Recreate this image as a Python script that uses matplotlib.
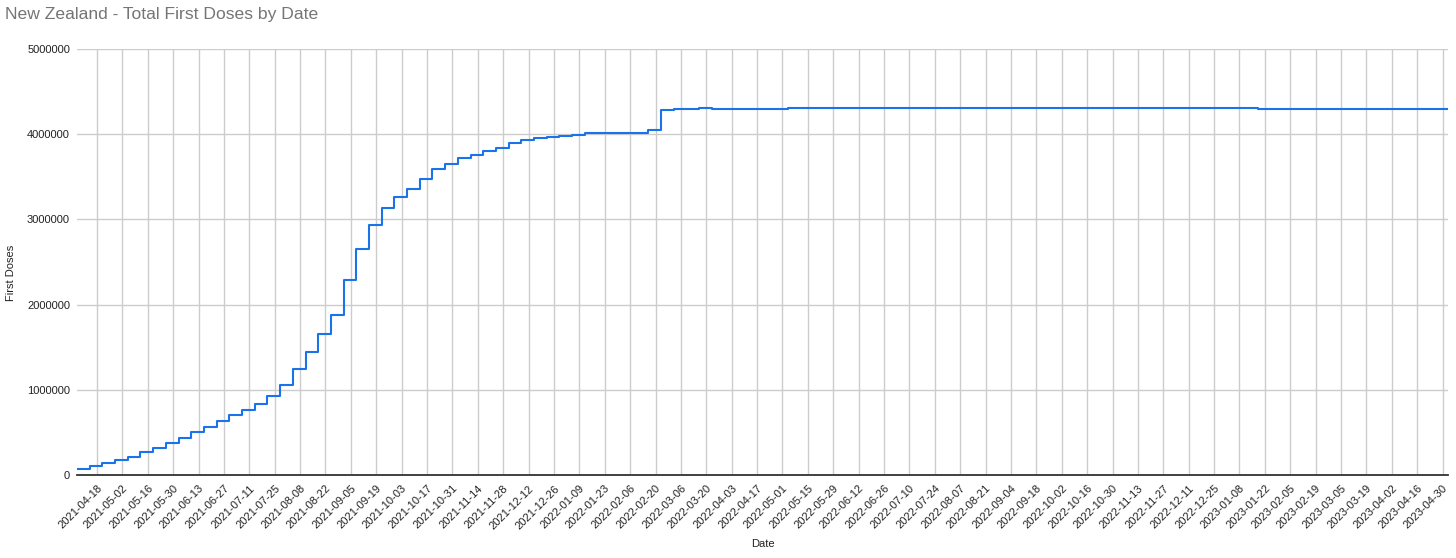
import datetime as dt

import matplotlib
matplotlib.use("Agg")
import matplotlib.pyplot as plt
import matplotlib.dates as mdates

plt.rcParams["font.family"] = ["Liberation Sans", "DejaVu Sans"]

# weekly cumulative first doses
start_date = dt.date(2021, 4, 7)
first_doses = [
    74000, 106000, 141000, 176000, 215000, 274000, 320000, 372000, 430000, 500000,
    567000, 637000, 708000, 766000, 838000, 926000, 1060000, 1247000, 1445000, 1653000,
    1879000, 2286000, 2653000, 2934000, 3134000, 3259000, 3353000, 3480000, 3589000, 3652000,
    3715000, 3757000, 3808000, 3839000, 3891000, 3933000, 3961000, 3973000, 3980000, 3988000,
    4012000, 4012000, 4012000, 4012000, 4012000, 4047000, 4282000, 4297000, 4297000, 4313000,
    4299000, 4299000, 4299000, 4299000, 4299000, 4299000, 4308000, 4308000, 4308000, 4308000,
    4308000, 4308000, 4308000, 4308000, 4308000, 4308000, 4308000, 4308000, 4308000, 4308000,
    4308000, 4308000, 4308000, 4308000, 4308000, 4308000, 4308000, 4308000, 4308000, 4308000,
    4308000, 4308000, 4308000, 4308000, 4308000, 4308000, 4308000, 4308000, 4305000, 4305000,
    4305000, 4305000, 4305000, 4300000, 4300000, 4300000, 4300000, 4300000, 4300000, 4300000,
    4300000, 4300000, 4300000, 4300000, 4300000, 4297000, 4297000, 4297000, 4297000,
]
dates = [start_date + dt.timedelta(days=7 * i) for i in range(len(first_doses))]

tick_start = dt.date(2021, 4, 18)
tick_end = dt.date(2023, 4, 30)
y_ticks = [0, 1000000, 2000000, 3000000, 4000000, 5000000]

fig = plt.figure(figsize=(14.56, 5.58), dpi=100)
ax = fig.add_axes([77 / 1456, 1 - 475 / 558, (1448 - 77) / 1456, (475 - 49) / 558])

ax.plot(dates, first_doses, drawstyle="steps-post", color="#1a73e8", lw=1.5, zorder=3)

x_ticks = []
d = tick_start
while d <= tick_end:
    x_ticks.append(d)
    d += dt.timedelta(days=14)

ax.set_xlim(dates[0], dates[-1])
ax.set_ylim(0, 5000000)
ax.set_xticks(x_ticks)
ax.xaxis.set_major_formatter(mdates.DateFormatter("%Y-%m-%d"))
ax.set_yticks(y_ticks)
ax.set_yticklabels([str(v) for v in y_ticks])

for lbl in ax.get_xticklabels():
    lbl.set_rotation(45)
    lbl.set_ha("right")
    lbl.set_rotation_mode("anchor")

ax.tick_params(axis="both", length=0, labelsize=8, colors="#222222")
ax.tick_params(axis="x", pad=6)
ax.tick_params(axis="y", pad=5)
ax.grid(True, color="#cccccc", lw=1)
ax.set_axisbelow(True)
for side in ("top", "right", "left"):
    ax.spines[side].set_visible(False)
ax.spines["bottom"].set_color("#333333")
ax.spines["bottom"].set_linewidth(1.3)

ax.set_xlabel("Date", fontsize=8, color="#222222", labelpad=6)
ax.set_ylabel("First Doses", fontsize=8, color="#222222")
ax.yaxis.set_label_coords(-0.0445, 0.474)
fig.text(5 / 1456, 1 - 14 / 558, "New Zealand - Total First Doses by Date",
         fontsize=12.6, color="#757575", va="center", ha="left")

fig.savefig("out.png", dpi=100)
